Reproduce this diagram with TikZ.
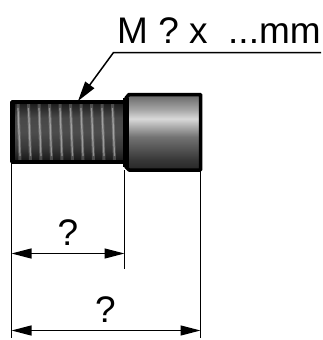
\documentclass[tikz,border=0pt]{standalone}
\usepackage{fontspec}
\setmainfont{Liberation Sans}
\usetikzlibrary{arrows.meta}
\pgfdeclareverticalshading{headshade}{100bp}{
  color(0bp)=(black!85); color(25bp)=(black!85); color(32bp)=(black!78); color(47bp)=(black!55);
  color(59bp)=(black!15); color(65bp)=(black!35); color(75bp)=(black!60); color(100bp)=(black!60)}
\pgfdeclareverticalshading{threadshade}{100bp}{
  color(0bp)=(black!92); color(25bp)=(black!92); color(37bp)=(black!78); color(50bp)=(black!70);
  color(62bp)=(black!72); color(75bp)=(black!90); color(100bp)=(black!90)}
\tikzset{
  outline/.style={line width=3.5pt,line join=round},
  dimline/.style={line width=1.3pt},
  dimarrow/.style={line width=1.3pt,{Triangle[length=20pt,width=10pt]}-{Triangle[length=20pt,width=10pt]}},
  thread/.style={line width=3pt,white,opacity=0.2},
  threadcore/.style={line width=1.2pt,white,opacity=0.35},
  label/.style={font=\fontsize{37}{37}\selectfont,inner sep=0pt}
}
\begin{document}
\begin{tikzpicture}[x=1pt,y=-1pt]
\useasboundingbox (0,0) rectangle (322,340);
\coordinate (ShaftA) at (12,102);
\coordinate (ShaftB) at (124.5,162);
\coordinate (HeadA) at (126,98);
\coordinate (HeadB) at (129,94.5);
\coordinate (HeadC) at (200.5,94.5);
\coordinate (HeadD) at (200.5,170);
\coordinate (HeadE) at (129,170);
\coordinate (HeadF) at (126,167);
\coordinate (LeaderA) at (321,52.5);
\coordinate (LeaderB) at (113.5,52.5);
\coordinate (LeaderC) at (78,101);
% thread
\shade[shading=threadshade] (ShaftA) rectangle (ShaftB);
\foreach \x in {18,28.5,...,120} {
  \draw[thread] (\x,104) -- (\x+2,160);
  \draw[threadcore] (\x,108) -- (\x+2,156);
}
\draw[outline] (ShaftA) rectangle (ShaftB);
\draw[line width=5pt] (12.5,103) -- (12.5,161);
% head
\shade[shading=headshade] (HeadA) -- (HeadB) -- (HeadC) -- (HeadD) -- (HeadE) -- (HeadF) -- cycle;
\draw[outline] (HeadA) -- (HeadB) -- (HeadC) -- (HeadD) -- (HeadE) -- (HeadF) -- cycle;
\draw[line width=5.5pt] (HeadA) -- (HeadF);
% extension lines
\coordinate (ExtA) at (11.5,338);
\coordinate (ExtB) at (124.5,269);
\coordinate (ExtC) at (200.5,338);
\draw[dimline] (ExtA |- ShaftB) -- (ExtA);
\draw[dimline] (ExtB |- HeadD) -- (ExtB);
\draw[dimline] (ExtC |- HeadD) -- (ExtC);
% dimensions
\coordinate (DimA) at (11.5,253.5);
\coordinate (DimB) at (124.5,253.5);
\coordinate (DimC) at (11.5,330.5);
\coordinate (DimD) at (200.5,330.5);
\draw[dimarrow] (DimA) -- (DimB);
\draw[dimarrow] (DimC) -- (DimD);
\node[label] (Short) at (68,233) {?};
\node[label] (Long) at (105.5,310) {?};
% leader
\draw[line width=1.5pt,-{Triangle[length=20pt,width=11pt]}] (LeaderA) -- (LeaderB) -- (LeaderC);
\node[label,anchor=base west] (Size) at (117,43) {M ? x\ \ ...mm};
\end{tikzpicture}
\end{document}
